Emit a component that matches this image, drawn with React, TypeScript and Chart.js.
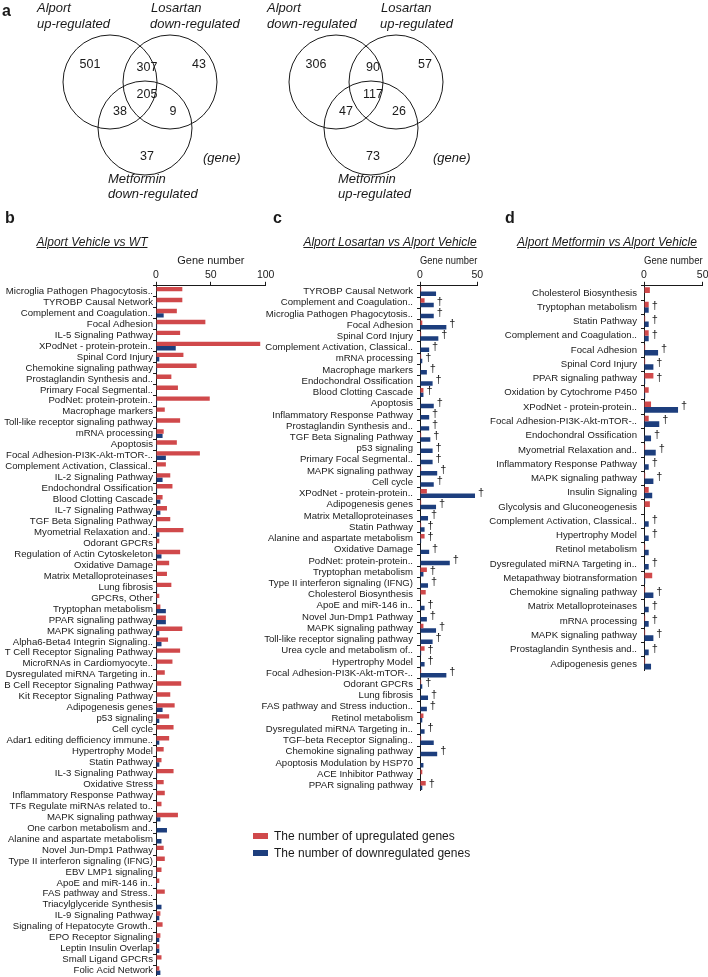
import React, { useEffect, useRef } from "react";
import { Chart, registerables } from "chart.js";

Chart.register(...registerables);

const FONT = '"Liberation Sans", Arial, Helvetica, sans-serif';
Chart.defaults.font.family = FONT;
Chart.defaults.color = "#1a1a1a";

const RED = "#D0494B";
const BLUE = "#1D3E7D";
const INK = "#1a1a1a";

// ---------- Venn data ----------
// order: only A, A∩B, only B, A∩B∩C, A∩C, B∩C, only C
const vennLeftCounts = [501, 307, 43, 205, 38, 9, 37];
const vennRightCounts = [306, 90, 57, 117, 47, 26, 73];

// ---------- panel b ----------
const bLabels = [
  "Microglia Pathogen Phagocytosis..",
  "TYROBP Causal Network",
  "Complement and Coagulation..",
  "Focal Adhesion",
  "IL-5 Signaling Pathway",
  "XPodNet - protein-protein..",
  "Spinal Cord Injury",
  "Chemokine signaling pathway",
  "Prostaglandin Synthesis and..",
  "Primary Focal Segmental..",
  "PodNet: protein-protein..",
  "Macrophage markers",
  "Toll-like receptor signaling pathway",
  "mRNA processing",
  "Apoptosis",
  "Focal Adhesion-PI3K-Akt-mTOR-..",
  "Complement Activation, Classical..",
  "IL-2 Signaling Pathway",
  "Endochondral Ossification",
  "Blood Clotting Cascade",
  "IL-7 Signaling Pathway",
  "TGF Beta Signaling Pathway",
  "Myometrial Relaxation and..",
  "Odorant GPCRs",
  "Regulation of Actin Cytoskeleton",
  "Oxidative Damage",
  "Matrix Metalloproteinases",
  "Lung fibrosis",
  "GPCRs, Other",
  "Tryptophan metabolism",
  "PPAR signaling pathway",
  "MAPK signaling pathway",
  "Alpha6-Beta4 Integrin Signaling..",
  "T Cell Receptor Signaling Pathway",
  "MicroRNAs in Cardiomyocyte..",
  "Dysregulated miRNA Targeting in..",
  "B Cell Receptor Signaling Pathway",
  "Kit Receptor Signaling Pathway",
  "Adipogenesis genes",
  "p53 signaling",
  "Cell cycle",
  "Adar1 editing defficiency immune..",
  "Hypertrophy Model",
  "Statin Pathway",
  "IL-3 Signaling Pathway",
  "Oxidative Stress",
  "Inflammatory Response Pathway",
  "TFs Regulate miRNAs related to..",
  "MAPK signaling pathway",
  "One carbon metabolism and..",
  "Alanine and aspartate metabolism",
  "Novel Jun-Dmp1 Pathway",
  "Type II interferon signaling (IFNG)",
  "EBV LMP1 signaling",
  "ApoE and miR-146 in..",
  "FAS pathway and Stress..",
  "Triacylglyceride Synthesis",
  "IL-9 Signaling Pathway",
  "Signaling of Hepatocyte Growth..",
  "EPO Receptor Signaling",
  "Leptin Insulin Overlap",
  "Small Ligand GPCRs",
  "Folic Acid Network",
];
const bUp = [
  24, 24, 19, 45, 22, 95, 25, 37, 14, 20, 49, 8, 22,
  7, 19, 40, 9, 13, 15, 6, 10, 13, 25, 3, 22, 12, 10, 14, 3, 4, 9, 24, 11,
  22, 15, 8, 23, 13, 17, 12, 16, 12, 7, 5, 16, 7, 8, 5, 20, 0, 0, 7, 8, 5, 3, 8, 0, 4, 6, 4, 3, 5, 3,
];
const bDown = [
  0, 1, 7, 1, 1, 18, 3, 1, 0, 0, 1, 0, 1,
  6, 1, 9, 0, 6, 1, 4, 4, 1, 3, 0, 5, 0, 0, 1, 1, 9, 9, 3, 5,
  1, 1, 0, 1, 1, 6, 3, 0, 3, 0, 3, 1, 1, 0, 0, 4, 10, 5, 0, 0, 1, 1, 0, 5, 3, 0, 3, 3, 0, 4,
];

// ---------- panel c ----------
const cLabels = [
  "TYROBP Causal Network",
  "Complement and Coagulation..",
  "Microglia Pathogen Phagocytosis..",
  "Focal Adhesion",
  "Spinal Cord Injury",
  "Complement Activation, Classical..",
  "mRNA processing",
  "Macrophage markers",
  "Endochondral Ossification",
  "Blood Clotting Cascade",
  "Apoptosis",
  "Inflammatory Response Pathway",
  "Prostaglandin Synthesis and..",
  "TGF Beta Signaling Pathway",
  "p53 signaling",
  "Primary Focal Segmental..",
  "MAPK signaling pathway",
  "Cell cycle",
  "XPodNet - protein-protein..",
  "Adipogenesis genes",
  "Matrix Metalloproteinases",
  "Statin Pathway",
  "Alanine and aspartate metabolism",
  "Oxidative Damage",
  "PodNet: protein-protein..",
  "Tryptophan metabolism",
  "Type II interferon signaling (IFNG)",
  "Cholesterol Biosynthesis",
  "ApoE and miR-146 in..",
  "Novel Jun-Dmp1 Pathway",
  "MAPK signaling pathway",
  "Toll-like receptor signaling pathway",
  "Urea cycle and metabolism of..",
  "Hypertrophy Model",
  "Focal Adhesion-PI3K-Akt-mTOR-..",
  "Odorant GPCRs",
  "Lung fibrosis",
  "FAS pathway and Stress induction..",
  "Retinol metabolism",
  "Dysregulated miRNA Targeting in..",
  "TGF-beta Receptor Signaling..",
  "Chemokine signaling pathway",
  "Apoptosis Modulation by HSP70",
  "ACE Inhibitor Pathway",
  "PPAR signaling pathway",
];
const cUp = [
  1, 4, 0, 2, 1, 0, 1, 0, 0, 3, 0, 0,
  0, 1, 0, 0, 1, 0, 6, 1, 0, 1, 4, 0, 0, 6, 0, 5, 0, 0, 3, 0, 4,
  0, 1, 1, 0, 0, 3, 0, 1, 0, 0, 2, 5,
];
const cDown = [
  14, 12, 12, 23, 16, 8, 2, 6, 11, 3, 12, 8,
  8, 9, 11, 11, 15, 12, 48, 14, 7, 4, 1, 8, 26, 3, 7, 0, 4, 6, 14, 11, 1,
  4, 23, 2, 7, 6, 2, 4, 12, 15, 3, 0, 2,
];
const cSig = [
  0, 1, 1, 1, 1, 1, 1, 1, 1, 1, 1, 1,
  1, 1, 1, 1, 1, 1, 1, 1, 1, 1, 1, 1, 1, 1, 1, 0, 1, 1, 1, 1, 1,
  1, 1, 1, 1, 1, 0, 1, 0, 1, 0, 0, 1,
];

// ---------- panel d ----------
const dLabels = [
  "Cholesterol Biosynthesis",
  "Tryptophan metabolism",
  "Statin Pathway",
  "Complement and Coagulation..",
  "Focal Adhesion",
  "Spinal Cord Injury",
  "PPAR signaling pathway",
  "Oxidation by Cytochrome P450",
  "XPodNet - protein-protein..",
  "Focal Adhesion-PI3K-Akt-mTOR-..",
  "Endochondral Ossification",
  "Myometrial Relaxation and..",
  "Inflammatory Response Pathway",
  "MAPK signaling pathway",
  "Insulin Signaling",
  "Glycolysis and Gluconeogenesis",
  "Complement Activation, Classical..",
  "Hypertrophy Model",
  "Retinol metabolism",
  "Dysregulated miRNA Targeting in..",
  "Metapathway biotransformation",
  "Chemokine signaling pathway",
  "Matrix Metalloproteinases",
  "mRNA processing",
  "MAPK signaling pathway",
  "Prostaglandin Synthesis and..",
  "Adipogenesis genes",
];
const dUp = [5, 4, 1, 4, 1, 1, 8, 4, 6, 4, 0, 1, 0, 1, 4, 5, 0, 0, 1, 0, 7, 1, 0, 1, 1, 0, 1];
const dDown = [0, 4, 4, 4, 12, 8, 1, 1, 29, 13, 6, 10, 4, 8, 7, 0, 4, 4, 4, 4, 1, 8, 4, 4, 8, 4, 6];
const dSig = [0, 1, 1, 1, 1, 1, 1, 0, 1, 1, 1, 1, 1, 1, 0, 0, 1, 1, 0, 1, 0, 1, 1, 1, 1, 1, 0];

const axisTickLabels = { b: ["0", "50", "100"], c: ["0", "50"], d: ["0", "50"] };

// ---------- layout (not data) ----------
const VENN_R = 47;
const vennCircleCenters = [
  [110, 82],
  [170, 82],
  [145, 128],
];
const vennNumberPos = [
  [90, 65],
  [147, 68],
  [199, 65],
  [147, 95],
  [120, 112],
  [173, 112],
  [147, 157],
];
const VENN_DX = 226;
const VENN_TEXT_DX = 230;
const VENN_PAD = 70;

function VennCanvas() {
  const ref = useRef<HTMLCanvasElement>(null);
  useEffect(() => {
    const circles = (dx: number) =>
      vennCircleCenters.map(([x, y]) => ({
        data: [{ x: x + dx, y, r: VENN_R }],
        backgroundColor: "rgba(0,0,0,0)",
        borderColor: INK,
        borderWidth: 1,
        hoverBorderWidth: 1,
        clip: false,
      }));
    const numbersPlugin = {
      id: "vennNumbers",
      afterDatasetsDraw(chart: any) {
        const { ctx, scales } = chart;
        ctx.save();
        ctx.fillStyle = INK;
        ctx.font = `12.5px ${FONT}`;
        ctx.textAlign = "center";
        ctx.textBaseline = "middle";
        const put = (counts: number[], dx: number) =>
          counts.forEach((v, i) => {
            const [x, y] = vennNumberPos[i];
            ctx.fillText(String(v), scales.x.getPixelForValue(x + dx), scales.y.getPixelForValue(y));
          });
        put(vennLeftCounts, 0);
        put(vennRightCounts, VENN_DX);
        ctx.restore();
      },
    };
    const chart = new Chart(ref.current!, {
      type: "bubble",
      data: { datasets: [...circles(0), ...circles(VENN_DX)] as any },
      options: {
        responsive: false,
        animation: false,
        events: [],
        layout: { padding: VENN_PAD },
        plugins: { legend: { display: false }, tooltip: { enabled: false } },
        scales: {
          x: { type: "linear", min: 0, max: 708, display: false },
          y: { type: "linear", min: 0, max: 215, reverse: true, display: false },
        },
      },
      plugins: [numbersPlugin],
    });
    return () => chart.destroy();
  }, []);
  return (
    <canvas
      ref={ref}
      width={708 + 2 * VENN_PAD}
      height={215 + 2 * VENN_PAD}
      style={{ position: "absolute", left: -VENN_PAD, top: -VENN_PAD }}
    />
  );
}

type PanelProps = {
  labels: string[];
  up: number[];
  down: number[];
  sig?: number[];
  max: number;
  tickLabels: string[];
  left: number;
  top: number;
  width: number;
  height: number;
  axisWidth: number;
  padRight: number;
  labelPad: number;
  catPct: number;
};

function BarPanel(p: PanelProps) {
  const ref = useRef<HTMLCanvasElement>(null);
  useEffect(() => {
    const daggerPlugin = {
      id: "dagger",
      afterDatasetsDraw(chart: any) {
        if (!p.sig) return;
        const { ctx, scales } = chart;
        ctx.save();
        ctx.fillStyle = INK;
        ctx.font = `11px ${FONT}`;
        ctx.textAlign = "center";
        ctx.textBaseline = "middle";
        p.sig.forEach((s, i) => {
          if (!s) return;
          const v = Math.max(p.up[i], p.down[i]);
          ctx.fillText("\u2020", scales.x.getPixelForValue(v) + 6, scales.y.getPixelForValue(i) - 1);
        });
        ctx.restore();
      },
    };
    const noPad = (scale: any) => {
      scale.paddingTop = 0;
      scale.paddingBottom = 0;
      scale.paddingLeft = 0;
      scale.paddingRight = 0;
    };
    const chart = new Chart(ref.current!, {
      type: "bar",
      data: {
        labels: p.labels,
        datasets: [
          { label: "up", data: p.up, backgroundColor: RED, categoryPercentage: p.catPct, barPercentage: 1 },
          { label: "down", data: p.down, backgroundColor: BLUE, categoryPercentage: p.catPct, barPercentage: 1 },
        ],
      },
      options: {
        indexAxis: "y",
        responsive: false,
        animation: false,
        events: [],
        layout: { padding: { left: 0, right: p.padRight, top: 0, bottom: 0 } },
        plugins: { legend: { display: false }, tooltip: { enabled: false } },
        scales: {
          x: {
            position: "top",
            min: 0,
            max: p.max,
            afterBuildTicks: (scale: any) => {
              scale.ticks = p.tickLabels.map((t) => ({ value: Number(t) }));
            },
            afterFit: noPad,
            ticks: { font: { size: 10.5 }, color: INK, padding: 0, maxRotation: 0 },
            grid: { display: true, drawOnChartArea: false, tickLength: 4, color: INK, lineWidth: 1 },
            border: { display: true, color: INK, width: 1 },
            title: {
              display: true,
              text: "Gene number",
              font: { size: 11 },
              color: INK,
              padding: { top: 0, bottom: 2 },
            },
          },
          y: {
            ticks: { font: { size: 9.6 }, color: INK, padding: p.labelPad, autoSkip: false },
            grid: { display: true, drawOnChartArea: false, tickLength: 3, color: INK, lineWidth: 1 },
            border: { display: true, color: INK, width: 1 },
            afterFit: (scale: any) => {
              scale.width = p.axisWidth;
              noPad(scale);
            },
          },
        },
      },
      plugins: [daggerPlugin],
    });
    return () => chart.destroy();
  }, []);
  return (
    <canvas
      ref={ref}
      width={p.width}
      height={p.height}
      style={{ position: "absolute", left: p.left, top: p.top }}
    />
  );
}

const txt = (extra: React.CSSProperties): React.CSSProperties => ({
  position: "absolute",
  whiteSpace: "nowrap",
  color: INK,
  fontFamily: FONT,
  lineHeight: 1,
  ...extra,
});

function VennText({ dx, a, b, c }: { dx: number; a: string; b: string; c: string }) {
  const s: React.CSSProperties = { fontSize: 13, fontStyle: "italic" };
  return (
    <>
      <div style={txt({ ...s, left: 37 + dx, top: 1 })}>Alport</div>
      <div style={txt({ ...s, left: 37 + dx, top: 17 })}>{a}</div>
      <div style={txt({ ...s, left: 151 + dx, top: 1 })}>Losartan</div>
      <div style={txt({ ...s, left: 150 + dx, top: 17 })}>{b}</div>
      <div style={txt({ ...s, left: 203 + dx, top: 151 })}>(gene)</div>
      <div style={txt({ ...s, left: 108 + dx, top: 172 })}>Metformin</div>
      <div style={txt({ ...s, left: 108 + dx, top: 187 })}>{c}</div>
    </>
  );
}

function PanelTitle({ cx, text }: { cx: number; text: string }) {
  return (
    <div
      style={txt({
        left: cx,
        top: 236,
        transform: "translateX(-50%)",
        fontSize: 12,
        fontStyle: "italic",
        textDecoration: "underline",
      })}
    >
      {text}
    </div>
  );
}

export default function App() {
  const letter = (l: string, x: number, y: number) => (
    <div style={txt({ left: x, top: y, fontSize: 16, fontWeight: "bold" })}>{l}</div>
  );
  return (
    <div
      style={{
        position: "absolute",
        left: 0,
        top: 0,
        width: 708,
        height: 977,
        background: "#fff",
        overflow: "hidden",
        fontFamily: FONT,
      }}
    >
      <VennCanvas />
      {letter("a", 2, 3)}
      <VennText dx={0} a="up-regulated" b="down-regulated" c="down-regulated" />
      <VennText dx={VENN_TEXT_DX} a="down-regulated" b="up-regulated" c="up-regulated" />

      {letter("b", 5, 210)}
      {letter("c", 273, 210)}
      {letter("d", 505, 210)}

      <PanelTitle cx={92} text="Alport Vehicle vs WT" />
      <PanelTitle cx={390} text="Alport Losartan vs Alport Vehicle" />
      <PanelTitle cx={607} text="Alport Metformin vs Alport Vehicle" />

      <BarPanel
        labels={bLabels}
        up={bUp}
        down={bDown}
        max={100}
        tickLabels={axisTickLabels.b}
        left={0}
        top={254}
        width={290}
        height={722}
        axisWidth={156}
        padRight={24.3}
        labelPad={0}
        catPct={0.8}
      />
      <BarPanel
        labels={cLabels}
        up={cUp}
        down={cDown}
        sig={cSig}
        max={50}
        tickLabels={axisTickLabels.c}
        left={230}
        top={254}
        width={270}
        height={537}
        axisWidth={190}
        padRight={22.7}
        labelPad={4}
        catPct={0.8}
      />
      <BarPanel
        labels={dLabels}
        up={dUp}
        down={dDown}
        sig={dSig}
        max={50}
        tickLabels={axisTickLabels.d}
        left={470}
        top={254}
        width={238}
        height={417}
        axisWidth={174}
        padRight={5.3}
        labelPad={4}
        catPct={0.78}
      />

      <div style={txt({ left: 253, top: 833, width: 15, height: 6, background: RED })} />
      <div style={txt({ left: 274, top: 830, fontSize: 12 })}>The number of upregulated genes</div>
      <div style={txt({ left: 253, top: 850, width: 15, height: 6, background: BLUE })} />
      <div style={txt({ left: 274, top: 847, fontSize: 12 })}>The number of downregulated genes</div>
    </div>
  );
}
